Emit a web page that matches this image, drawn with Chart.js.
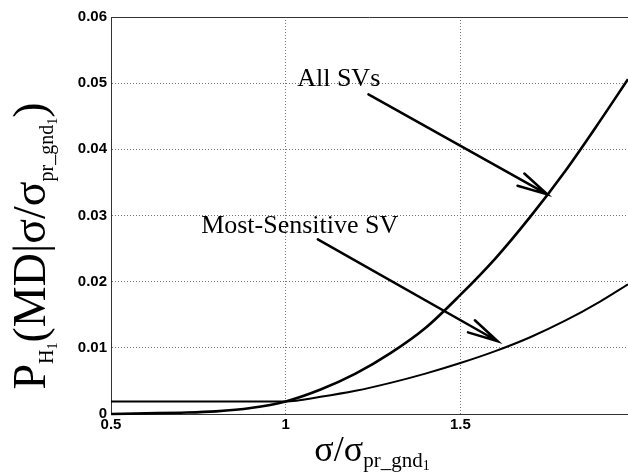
<!DOCTYPE html>
<html>
<head>
<meta charset="utf-8">
<script src="https://cdn.jsdelivr.net/npm/chart.js@4.4.0/dist/chart.umd.min.js"></script>
<style>
  html, body { margin: 0; padding: 0; background: #fff; }
  #wrap { width: 628px; height: 475px; }
</style>
</head>
<body>
<div id="wrap"><canvas id="chart" width="628" height="475"></canvas></div>
<script>
// --- values ---
const sigmaRatio = [0.5, 0.6, 0.7, 0.8, 0.9, 1.0, 1.1, 1.2, 1.3, 1.4, 1.5, 1.6, 1.7, 1.8, 1.9, 1.98];
const allSVs = [0.0000, 0.0001, 0.0002, 0.0004, 0.0009, 0.0019, 0.0037, 0.0061, 0.0092, 0.0130, 0.0180, 0.0235, 0.0298, 0.0367, 0.0443, 0.0506];
const mostSensitiveSV = [0.0019, 0.0019, 0.0019, 0.0019, 0.0019, 0.0019, 0.0026, 0.0035, 0.0047, 0.0061, 0.0077, 0.0095, 0.0116, 0.0141, 0.0170, 0.0196];
const xTicks = [0.5, 1, 1.5];
const yTicks = [0, 0.01, 0.02, 0.03, 0.04, 0.05, 0.06];

// labels with arrows, in data units: text position, arrow tail, arrow tip
const allLabel = { text: "All SVs", at: [1.033, 0.0495], from: [1.237, 0.0483], to: [1.749, 0.0332] };
const mostLabel = { text: "Most-Sensitive SV", at: [0.758, 0.0273], from: [1.092, 0.0264], to: [1.607, 0.0110] };

const SERIF = "'Liberation Serif', 'Times New Roman', serif";

function toPoints(xs, ys) {
  return xs.map((x, i) => ({ x, y: ys[i] }));
}

function drawArrow(ctx, x0, y0, x1, y1) {
  const ang = Math.atan2(y1 - y0, x1 - x0);
  const len = 31, spread = 13 * Math.PI / 180;
  ctx.lineWidth = 2.5;
  ctx.lineCap = "round";
  ctx.beginPath();
  ctx.moveTo(x0, y0);
  ctx.lineTo(x1, y1);
  ctx.moveTo(x1 - len * Math.cos(ang + spread), y1 - len * Math.sin(ang + spread));
  ctx.lineTo(x1, y1);
  ctx.lineTo(x1 - len * Math.cos(ang - spread), y1 - len * Math.sin(ang - spread));
  ctx.stroke();
}

// text with sub/subsub scripts: pieces of [text, fontSize, baselineShift]
function richWidth(ctx, pieces) {
  let w = 0;
  for (const [t, size] of pieces) {
    ctx.font = `${size}px ${SERIF}`;
    w += ctx.measureText(t).width;
  }
  return w;
}
function drawRich(ctx, pieces, x0, y0) {
  let x = x0;
  for (const [t, size, dy] of pieces) {
    ctx.font = `${size}px ${SERIF}`;
    ctx.fillText(t, x, y0 + dy);
    x += ctx.measureText(t).width;
  }
}

const decorations = {
  id: "decorations",
  afterDatasetsDraw(chart) {
    const { ctx, chartArea, scales: { x, y } } = chart;
    ctx.save();
    // top frame line
    ctx.strokeStyle = "#333";
    ctx.lineWidth = 1;
    ctx.beginPath();
    ctx.moveTo(chartArea.left, chartArea.top + 0.5);
    ctx.lineTo(chartArea.right, chartArea.top + 0.5);
    ctx.stroke();

    ctx.fillStyle = "#000";
    ctx.strokeStyle = "#000";
    ctx.textBaseline = "alphabetic";
    ctx.textAlign = "left";
    for (const a of [allLabel, mostLabel]) {
      ctx.font = `26px ${SERIF}`;
      ctx.fillText(a.text, x.getPixelForValue(a.at[0]), y.getPixelForValue(a.at[1]));
      drawArrow(ctx,
        x.getPixelForValue(a.from[0]), y.getPixelForValue(a.from[1]),
        x.getPixelForValue(a.to[0]), y.getPixelForValue(a.to[1]));
    }
    ctx.restore();
  },
  afterDraw(chart) {
    const { ctx } = chart;
    ctx.save();
    ctx.fillStyle = "#000";
    ctx.textBaseline = "alphabetic";
    ctx.textAlign = "left";

    // x title: σ/σ_{pr_gnd1}
    const xTitle = [["σ/σ", 36, 0], ["pr_gnd", 21, 6], ["1", 14, 9]];
    const xw = richWidth(ctx, xTitle);
    drawRich(ctx, xTitle, 372 - xw / 2, 461);

    // y title: P_{H1}(MD|σ/σ_{pr_gnd1})
    const yTitle = [["P", 46, 0], ["H", 20, 8], ["1", 14, 12], ["(MD|σ/σ", 46, 0],
                    ["pr_gnd", 20, 8], ["1", 14, 12], [")", 46, 0]];
    const yw = richWidth(ctx, yTitle);
    ctx.translate(45, 246);
    ctx.rotate(-Math.PI / 2);
    drawRich(ctx, yTitle, -yw / 2, 0);
    ctx.restore();
  }
};

const tickFont = { family: "'Liberation Sans', Arial, sans-serif", size: 15, weight: "bold" };

new Chart(document.getElementById("chart"), {
  type: "line",
  data: {
    datasets: [
      {
        label: "All SVs",
        data: toPoints(sigmaRatio, allSVs),
        borderColor: "#000",
        borderWidth: 2.6,
        pointRadius: 0,
        cubicInterpolationMode: "monotone",
        clip: false
      },
      {
        label: "Most-Sensitive SV",
        data: toPoints(sigmaRatio, mostSensitiveSV),
        borderColor: "#000",
        borderWidth: 2,
        pointRadius: 0,
        cubicInterpolationMode: "monotone",
        clip: false
      }
    ]
  },
  options: {
    responsive: false,
    animation: false,
    layout: { padding: { top: 17, right: 0, left: 0, bottom: 0 } },
    plugins: {
      legend: { display: false },
      tooltip: { enabled: false }
    },
    scales: {
      x: {
        type: "linear",
        min: 0.5,
        max: 1.98,
        afterBuildTicks: (s) => { s.ticks = xTicks.map((v) => ({ value: v })); },
        afterFit: (s) => { s.height = 61; },
        ticks: {
          color: "#000",
          font: tickFont,
          padding: 2,
          maxRotation: 0,
          callback: (v) => String(v)
        },
        grid: { color: "#777", lineWidth: 1, drawTicks: false },
        border: { display: true, color: "#333", width: 1, dash: [1, 2] }
      },
      y: {
        type: "linear",
        min: 0,
        max: 0.06,
        afterBuildTicks: (s) => { s.ticks = yTicks.map((v) => ({ value: v })); },
        afterFit: (s) => { s.width = 111; },
        ticks: {
          color: "#000",
          font: tickFont,
          padding: 4,
          callback: (v) => (v === 0 ? "0" : v.toFixed(2))
        },
        grid: { color: "#777", lineWidth: 1, drawTicks: false },
        border: { display: true, color: "#333", width: 1, dash: [1, 2] }
      }
    }
  },
  plugins: [decorations]
});
</script>
</body>
</html>
